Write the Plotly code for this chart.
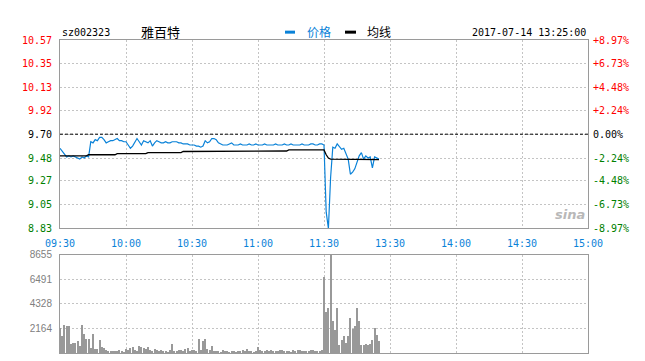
import plotly.graph_objects as go

# ---------------- data ----------------
stock_code = "sz002323"
stock_name = "雅百特"
timestamp = "2017-07-14 13:25:00"
prev_close = 9.70

time_ticks = [0, 30, 60, 90, 120, 150, 180, 210, 240]
time_labels = ["09:30", "10:00", "10:30", "11:00", "11:30", "13:30", "14:00", "14:30", "15:00"]

price_ticks = [10.57, 10.35, 10.13, 9.92, 9.70, 9.48, 9.27, 9.05, 8.83]
pct_labels = ["+8.97%", "+6.73%", "+4.48%", "+2.24%", "0.00%", "-2.24%", "-4.48%", "-6.73%", "-8.97%"]

vol_ticks = [2164, 4328, 6491, 8655]

price = [
    9.57, 9.54, 9.51, 9.49, 9.50, 9.49, 9.50, 9.49, 9.48, 9.47,
    9.49, 9.48, 9.50, 9.49, 9.63, 9.62, 9.65, 9.64, 9.67, 9.67,
    9.65, 9.62, 9.63, 9.64, 9.64, 9.65, 9.66, 9.64, 9.64, 9.63,
    9.63, 9.60, 9.57, 9.59, 9.63, 9.66, 9.63, 9.60, 9.64, 9.63,
    9.62, 9.64, 9.59, 9.62, 9.64, 9.63, 9.62, 9.62, 9.63, 9.62,
    9.62, 9.63, 9.63, 9.63, 9.62, 9.62, 9.61, 9.61, 9.61, 9.60,
    9.60, 9.60, 9.59, 9.59, 9.58, 9.59, 9.64, 9.62, 9.63, 9.66,
    9.66, 9.65, 9.62, 9.61, 9.60, 9.60, 9.60, 9.61, 9.62, 9.60,
    9.60, 9.60, 9.61, 9.60, 9.60, 9.60, 9.61, 9.60, 9.60, 9.61,
    9.60, 9.60, 9.60, 9.61, 9.60, 9.60, 9.60, 9.60, 9.61, 9.60,
    9.60, 9.60, 9.61, 9.60, 9.60, 9.61, 9.60, 9.60, 9.60, 9.60,
    9.61, 9.60, 9.60, 9.60, 9.61, 9.61, 9.60, 9.60, 9.61, 9.61,
    9.60,
    # afternoon 13:01 - 13:25
    8.98, 8.83, 9.30, 9.58, 9.57, 9.61, 9.58, 9.56, 9.57, 9.51,
    9.47, 9.33, 9.35, 9.38, 9.44, 9.50, 9.53, 9.47, 9.50, 9.48,
    9.49, 9.39, 9.49, 9.48, 9.47,
]

avg_price = [
    9.50, 9.50, 9.50, 9.50, 9.50, 9.50, 9.50, 9.50, 9.50, 9.50,
    9.50, 9.50, 9.50, 9.51, 9.51, 9.51, 9.51, 9.51, 9.51, 9.51,
    9.51, 9.51, 9.51, 9.51, 9.51, 9.51, 9.52, 9.52, 9.52, 9.52,
    9.52, 9.52, 9.52, 9.52, 9.52, 9.52, 9.52, 9.52, 9.52, 9.52,
    9.53, 9.53, 9.53, 9.53, 9.53, 9.53, 9.53, 9.53, 9.53, 9.53,
    9.53, 9.53, 9.53, 9.53, 9.53, 9.53, 9.54, 9.54, 9.54, 9.54,
    9.54, 9.54, 9.54, 9.54, 9.54, 9.54, 9.54, 9.54, 9.54, 9.54,
    9.54, 9.545, 9.545, 9.545, 9.545, 9.545, 9.545, 9.545, 9.545, 9.545,
    9.545, 9.545, 9.545, 9.545, 9.545, 9.545, 9.545, 9.545, 9.545, 9.545,
    9.545, 9.545, 9.545, 9.545, 9.545, 9.545, 9.545, 9.545, 9.545, 9.545,
    9.545, 9.545, 9.545, 9.545, 9.555, 9.555, 9.555, 9.555, 9.555, 9.555,
    9.555, 9.555, 9.555, 9.555, 9.555, 9.555, 9.555, 9.555, 9.555, 9.555,
    9.555,
    9.51, 9.48, 9.47, 9.47, 9.47, 9.47, 9.47, 9.47, 9.47, 9.47,
    9.47, 9.47, 9.47, 9.47, 9.47, 9.47, 9.47, 9.47, 9.47, 9.47,
    9.47, 9.465, 9.465, 9.465, 9.465,
]

volume = [
    2250, 1500, 2500, 2360, 2360, 780, 870, 870, 1040, 630,
    2500, 1650, 1210, 1210, 490, 1650, 350, 350, 1120, 560,
    430, 300, 180, 220, 150, 200, 180, 260, 150, 120,
    330, 250, 480, 560, 300, 180, 620, 500, 420, 350,
    540, 260, 200, 380, 300, 150, 250, 180, 220, 130,
    300, 800, 200, 150, 250, 300, 180, 350, 420, 200,
    300, 250, 150, 1260, 300, 1100, 1260, 400, 250, 650,
    200, 150, 180, 120, 250, 150, 200, 130, 180, 150,
    120, 200, 150, 250, 180, 350, 150, 200, 120, 180,
    500, 250, 200, 150, 300, 200, 250, 150, 200, 180,
    300, 250, 150, 200, 180, 120, 250, 200, 300, 250,
    150, 200, 180, 220, 300, 250, 200, 150, 180, 250,
    6690,
    3660, 4000, 8655, 2800, 2000, 4000, 720, 1120, 1500, 870,
    1500, 3140, 2140, 2420, 4000, 2860, 690, 690, 780, 690,
    780, 1120, 2220, 1560, 1040,
]

# ---------------- styling ----------------
W, H = 645, 361
ML, MR, MT, MB = 60, 57, 40, 2
PW, PH = W - ML - MR, H - MT - MB

RED = "#ff0000"
GREEN = "#008000"
BLUE = "#0a82d8"
GRID = "#c4c4c4"
BOX = "#9a9a9a"
MONO = "DejaVu Sans Mono"


def px_x(p):
    return (p - ML) / PW


def px_y(p):
    return (H - MB - p) / PH


main_bottom = px_y(232)
vol_top = px_y(259)


def colored(lbl, val):
    if abs(val - prev_close) < 1e-9:
        c = "#000000"
    elif val > prev_close:
        c = RED
    else:
        c = GREEN
    return f"<span style='color:{c}'>{lbl}</span>"


left_text = [colored(f"{v:.2f}", v) for v in price_ticks]
right_text = [colored(t, v) for t, v in zip(pct_labels, price_ticks)]

x = list(range(len(price)))
xv = list(range(len(volume)))

fig = go.Figure()
fig.add_trace(go.Scatter(x=x, y=price, mode="lines", line=dict(color=BLUE, width=1.2),
                         xaxis="x", yaxis="y", hoverinfo="skip", showlegend=False))
fig.add_trace(go.Scatter(x=x, y=avg_price, mode="lines", line=dict(color="#000000", width=1.3),
                         xaxis="x", yaxis="y", hoverinfo="skip", showlegend=False))
# invisible trace to carry the right-hand percentage axis
fig.add_trace(go.Scatter(x=x, y=price, mode="lines", line=dict(color="rgba(0,0,0,0)", width=0),
                         xaxis="x", yaxis="y3", hoverinfo="skip", showlegend=False))
fig.add_trace(go.Bar(x=xv, y=volume, marker=dict(color="#999999", line=dict(width=0)), width=0.45,
                     xaxis="x2", yaxis="y2", hoverinfo="skip", showlegend=False))

grid_common = dict(showgrid=True, gridcolor=GRID, griddash="2px,2px", gridwidth=1,
                   showline=True, linecolor=BOX, linewidth=1, mirror=True, zeroline=False, ticks="")

fig.update_layout(
    width=W, height=H,
    margin=dict(l=ML, r=MR, t=MT, b=MB, pad=0),
    paper_bgcolor="white", plot_bgcolor="white",
    hovermode=False, bargap=0,
    xaxis=dict(range=[0, 240], domain=[0, 1], anchor="y", tickvals=time_ticks, ticktext=time_labels,
               tickfont=dict(family=MONO, size=10, color=BLUE), ticklabelstandoff=6, **grid_common),
    xaxis2=dict(range=[0, 240], domain=[0, 1], anchor="y2", matches="x", tickvals=time_ticks,
                showticklabels=False, **grid_common),
    yaxis=dict(range=[price_ticks[-1], price_ticks[0]], domain=[main_bottom, 1], anchor="x",
               tickvals=price_ticks, ticktext=left_text, tickfont=dict(family=MONO, size=10),
               ticklabelstandoff=5, **grid_common),
    yaxis3=dict(range=[price_ticks[-1], price_ticks[0]], overlaying="y", side="right", anchor="x",
                tickvals=price_ticks, ticktext=right_text, tickfont=dict(family=MONO, size=10),
                showgrid=False, zeroline=False, showline=False, ticks="", ticklabelstandoff=4),
    yaxis2=dict(range=[0, 8655], domain=[0, vol_top], anchor="x2", tickvals=vol_ticks,
                tickfont=dict(family="Liberation Sans", size=10, color="#808080"),
                ticklabelstandoff=5, **grid_common),
)

# previous-close reference line (dashed black)
fig.add_shape(type="line", xref="x domain", yref="y", x0=0, x1=1, y0=prev_close, y1=prev_close,
              line=dict(color="#000000", width=1, dash="3px,2px"))

# header texts
fig.add_annotation(xref="paper", yref="paper", x=0, y=px_y(32), xanchor="left", yanchor="middle",
                   text=stock_code, showarrow=False, font=dict(family=MONO, size=10, color="#000000"))
fig.add_annotation(xref="paper", yref="paper", x=px_x(139), y=px_y(31), xanchor="left", yanchor="middle",
                   text=stock_name, showarrow=False, font=dict(family="Noto Sans CJK SC", size=13, color="#000000"))
fig.add_annotation(xref="paper", yref="paper", x=1, y=px_y(32), xanchor="right", yanchor="middle",
                   text=timestamp, showarrow=False, font=dict(family=MONO, size=10, color="#000000"))

# legend swatches + labels
fig.add_shape(type="line", xref="paper", yref="paper", x0=px_x(285), x1=px_x(295), y0=px_y(32), y1=px_y(32),
              line=dict(color=BLUE, width=3))
fig.add_annotation(xref="paper", yref="paper", x=px_x(305), y=px_y(31), xanchor="left", yanchor="middle",
                   text="价格", showarrow=False, font=dict(family="Noto Sans CJK SC", size=12, color=BLUE))
fig.add_shape(type="line", xref="paper", yref="paper", x0=px_x(345), x1=px_x(356), y0=px_y(32), y1=px_y(32),
              line=dict(color="#000000", width=3))
fig.add_annotation(xref="paper", yref="paper", x=px_x(365), y=px_y(31), xanchor="left", yanchor="middle",
                   text="均线", showarrow=False, font=dict(family="Noto Sans CJK SC", size=12, color="#000000"))

# watermark
fig.add_annotation(xref="paper", yref="paper", x=px_x(570), y=px_y(218), xanchor="center", yanchor="middle",
                   text="<b><i>sina</i></b>", showarrow=False,
                   font=dict(family="DejaVu Sans", size=13, color="#b8b8b8"))

fig.write_html("out.html")
